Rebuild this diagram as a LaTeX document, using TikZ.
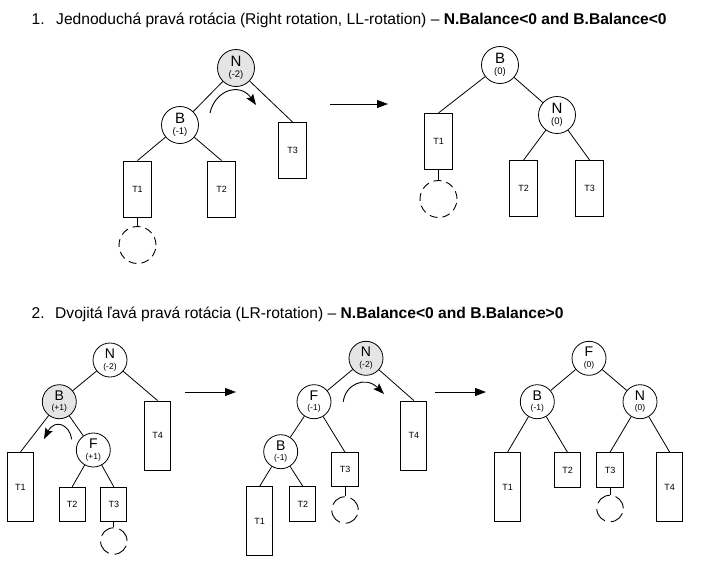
\documentclass[tikz,border=0pt]{standalone}
\usepackage{fontspec}
\setmainfont{Liberation Sans}
\usetikzlibrary{arrows.meta}

% text uzla: pismeno a vyvazenie
\newcommand{\uzlA}[2]{{\fontsize{15}{14}\selectfont #1}\\[-0.5pt]{\fontsize{9.5}{9}\selectfont #2}}
\newcommand{\uzlB}[2]{{\fontsize{14}{13}\selectfont #1}\\[-1.5pt]{\fontsize{8.5}{8}\selectfont #2}}

\begin{document}
\begin{tikzpicture}[x=1pt, y=-1pt,
	uzol/.style={circle, draw, line width=0.8pt, fill=white, inner sep=0pt, align=center, minimum size=#1},
	uzol/.default=37pt,
	sedy/.style={fill=black!10},
	strom/.style={draw, line width=1pt, inner sep=0pt, font=\fontsize{9}{9}\selectfont},
	prazdny/.style={circle, draw, line width=0.9pt, dashed, dash pattern=on 8pt off 5pt, inner sep=0pt, minimum size=#1},
	hrana/.style={line width=0.8pt},
	sipka/.style={line width=0.9pt, -{Triangle[length=11pt, width=8pt]}},
	otocenie/.style={line width=0.9pt, -{Stealth[length=11pt, width=8pt, inset=2pt]}},
	nadpis/.style={anchor=base west, inner sep=0pt, font=\fontsize{15.6}{18}\selectfont}]
	
	\useasboundingbox (0,0) rectangle (709,566);
	
	% Nadpisy
	\node[nadpis] (c1) at (31.5,24.3) {1.};
	\node[nadpis] (n1) at (56,24.3) {Jednoduchá pravá rotácia (Right rotation, LL-rotation) -- \textbf{N.Balance<0 and B.Balance<0}};
	\node[nadpis] (c2) at (31.5,318.3) {2.};
	\node[nadpis] (n2) at (55,318.3) {Dvojitá ľavá pravá rotácia (LR-rotation) -- \textbf{N.Balance<0 and B.Balance>0}};
	
	% 1. pred rotaciou
	\node[uzol, sedy] (aN) at (236,68) {\uzlA{N}{(-2)}};
	\node[uzol] (aB) at (180,125) {\uzlA{B}{(-1)}};
	\node[strom, minimum width=28.5pt, minimum height=56pt] (aT1) at (137.5,189) {T1};
	\node[strom, minimum width=28.5pt, minimum height=56pt] (aT2) at (221.5,189) {T2};
	\node[strom, minimum width=28.5pt, minimum height=56pt] (aT3) at (292.5,150.5) {T3};
	\node[prazdny=37pt] (aX) at (137.5,245) {};
	\draw[hrana] (aN) -- (aB);
	\draw[hrana] (aN) -- (aT3.north);
	\draw[hrana] (aB) -- (aT1.north);
	\draw[hrana] (aB) -- (aT2.north);
	\draw[hrana] (aT1.south) -- (aX.north);
	
	% otocenie doprava
	\coordinate (aR1) at (210,113);
	\coordinate (aR2) at (256,105);
	\draw[otocenie] (aR1) .. controls (215,90) and (240,82) .. (aR2);
	
	% sipka
	\coordinate (aS1) at (330,104);
	\coordinate (aS2) at (388,104);
	\draw[sipka] (aS1) -- (aS2);
	
	% 1. po rotacii
	\node[uzol] (bB) at (500,65) {\uzlA{B}{(0)}};
	\node[uzol] (bN) at (557,115) {\uzlA{N}{(0)}};
	\node[strom, minimum width=28.5pt, minimum height=56.5pt] (bT1) at (438.5,141.7) {T1};
	\node[strom, minimum width=28.5pt, minimum height=56pt] (bT2) at (523.5,188.7) {T2};
	\node[strom, minimum width=28.5pt, minimum height=56pt] (bT3) at (589.7,188.7) {T3};
	\node[prazdny=37pt] (bX) at (438.5,199) {};
	\draw[hrana] (bB) -- (bN);
	\draw[hrana] (bB) -- (bT1.north);
	\draw[hrana] (bN) -- (bT2.north);
	\draw[hrana] (bN) -- (bT3.north);
	\draw[hrana] (bT1.south) -- (bX.north);
	
	% 2. pred rotaciou
	\node[uzol=34pt] (cN) at (110,360) {\uzlB{N}{(-2)}};
	\node[uzol=34pt, sedy] (cB) at (59.3,401.7) {\uzlB{B}{(+1)}};
	\node[uzol=34pt] (cF) at (93.3,450) {\uzlB{F}{(+1)}};
	\node[strom, minimum width=26pt, minimum height=69pt] (cT1) at (20.3,487.2) {T1};
	\node[strom, minimum width=26pt, minimum height=34.5pt] (cT2) at (72.2,504.5) {T2};
	\node[strom, minimum width=26pt, minimum height=34.5pt] (cT3) at (113.8,504.5) {T3};
	\node[strom, minimum width=26pt, minimum height=69pt] (cT4) at (157.5,435.5) {T4};
	\node[prazdny=26.5pt, dash pattern=on 15pt off 6pt] (cX) at (113.8,541) {};
	\draw[hrana] (cN) -- (cB);
	\draw[hrana] (cN) -- (cT4.north);
	\draw[hrana] (cB) -- (cT1.north);
	\draw[hrana] (cB) -- (cF);
	\draw[hrana] (cF) -- (cT2.north);
	\draw[hrana] (cF) -- (cT3.north);
	\draw[hrana] (cT3.south) -- (cX.north);
	
	% otocenie dolava
	\coordinate (cR1) at (71.7,439.3);
	\coordinate (cR2) at (44,439);
	\draw[otocenie] (cR1) .. controls (70,425) and (55,418) .. (cR2);
	
	\coordinate (cS1) at (185,392);
	\coordinate (cS2) at (236,392);
	\draw[sipka] (cS1) -- (cS2);
	
	% 2. medzikrok
	\node[uzol=34pt, sedy] (dN) at (366,358.3) {\uzlB{N}{(-2)}};
	\node[uzol=34pt] (dF) at (314,401.7) {\uzlB{F}{(-1)}};
	\node[uzol=34pt] (dB) at (280.7,451.7) {\uzlB{B}{(-1)}};
	\node[strom, minimum width=26pt, minimum height=69pt] (dT1) at (259.7,521.3) {T1};
	\node[strom, minimum width=26pt, minimum height=35pt] (dT2) at (302.8,504.2) {T2};
	\node[strom, minimum width=26.5pt, minimum height=34pt] (dT3) at (345,469.7) {T3};
	\node[strom, minimum width=26pt, minimum height=69pt] (dT4) at (413.8,435.5) {T4};
	\node[prazdny=26.5pt, dash pattern=on 15pt off 6pt] (dX) at (345,510) {};
	\draw[hrana] (dN) -- (dF);
	\draw[hrana] (dN) -- (dT4.north);
	\draw[hrana] (dF) -- (dB);
	\draw[hrana] (dF) -- (dT3.north);
	\draw[hrana] (dB) -- (dT1.north);
	\draw[hrana] (dB) -- (dT2.north);
	\draw[hrana] (dT3.south) -- (dX.north);
	
	% otocenie doprava
	\coordinate (dR1) at (343.3,401.7);
	\coordinate (dR2) at (384,394);
	\draw[otocenie] (dR1) .. controls (345,385) and (365,375) .. (dR2);
	
	\coordinate (dS1) at (435,392);
	\coordinate (dS2) at (486,392);
	\draw[sipka] (dS1) -- (dS2);
	
	% 2. po rotacii
	\node[uzol=34pt] (eF) at (589,358.3) {\uzlB{F}{(0)}};
	\node[uzol=34pt] (eB) at (537.3,401.7) {\uzlB{B}{(-1)}};
	\node[uzol=34pt] (eN) at (640,401.7) {\uzlB{N}{(0)}};
	\node[strom, minimum width=26.5pt, minimum height=69pt] (eT1) at (507.5,487.2) {T1};
	\node[strom, minimum width=26.5pt, minimum height=34.5pt] (eT2) at (567.5,470) {T2};
	\node[strom, minimum width=26.5pt, minimum height=34.5pt] (eT3) at (610,470) {T3};
	\node[strom, minimum width=26.5pt, minimum height=69pt] (eT4) at (669.7,487.2) {T4};
	\node[prazdny=26.5pt, dash pattern=on 15pt off 6pt] (eX) at (610,508.5) {};
	\draw[hrana] (eF) -- (eB);
	\draw[hrana] (eF) -- (eN);
	\draw[hrana] (eB) -- (eT1.north);
	\draw[hrana] (eB) -- (eT2.north);
	\draw[hrana] (eN) -- (eT3.north);
	\draw[hrana] (eN) -- (eT4.north);
	\draw[hrana] (eT3.south) -- (eX.north);
	
\end{tikzpicture}
\end{document}
